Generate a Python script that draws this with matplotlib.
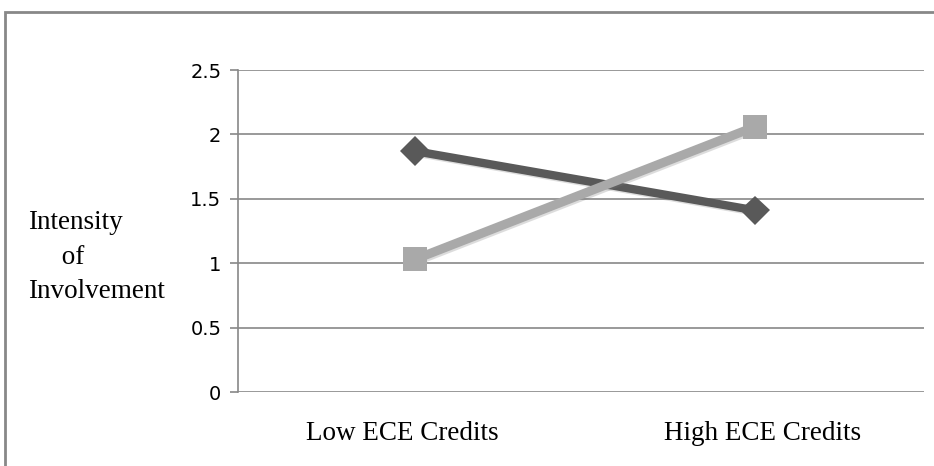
import matplotlib.pyplot as plt
from matplotlib.patches import Rectangle
from matplotlib.transforms import ScaledTranslation
import matplotlib.patheffects as pe

categories = ["Low ECE Credits", "High ECE Credits"]
series_dark = [1.87, 1.41]
series_light = [1.03, 2.06]
yticks = [0, 0.5, 1, 1.5, 2, 2.5]
ytick_labels = ["0", "0.5", "1", "1.5", "2", "2.5"]

W, H = 934, 466
fig = plt.figure(figsize=(W / 100, H / 100), dpi=100)
ax = fig.add_axes([238 / W, 1 - 392 / H, (924 - 238) / W, (392 - 70) / H])

x = [0, 1]
shadow = [pe.SimpleLineShadow(offset=(1.2, -1.2), shadow_color='#777777', alpha=0.25), pe.Normal()]
ax.plot(x, series_dark, color='#595959', lw=6, marker='D', markersize=15,
        markeredgewidth=0, solid_capstyle='butt', path_effects=shadow, zorder=3)
ax.plot(x, series_light, color='#a9a9a9', lw=6.5, marker='s', markersize=17.5,
        markeredgewidth=0, solid_capstyle='butt', path_effects=shadow, zorder=4)

ax.set_xlim(-0.52, 1.496)
ax.set_ylim(0, 2.5)
ax.set_yticks(yticks)
ax.set_yticklabels(ytick_labels, fontfamily='DejaVu Sans', fontsize=14)
ax.set_xticks(x)
ax.set_xticklabels(categories, fontfamily='Liberation Serif', fontsize=19.5)
ax.tick_params(axis='x', length=0, pad=21)
ax.tick_params(axis='y', length=6, width=1.2, color='#888888', pad=6)
for lbl, dx in zip(ax.get_xticklabels(), [-13, 7]):
    lbl.set_transform(lbl.get_transform() + ScaledTranslation(dx / 100, 0, fig.dpi_scale_trans))
ax.grid(axis='y', color='#888888', lw=1.2)
ax.set_axisbelow(True)
for s in ['top', 'right', 'bottom']:
    ax.spines[s].set_visible(False)
ax.spines['left'].set_color('#888888')
ax.spines['left'].set_linewidth(1.2)

fig.text(28 / W, 1 - 257 / H, "Intensity\n     of\nInvolvement", fontfamily='Liberation Serif',
         fontsize=19.5, va='center', ha='left', linespacing=1.5)

fig.patches.append(Rectangle((5 / W, -0.1), 1.2, 1 - 12 / H + 0.1, transform=fig.transFigure,
                             fill=False, edgecolor='#888888', lw=2))

fig.savefig("out.png", dpi=100)
